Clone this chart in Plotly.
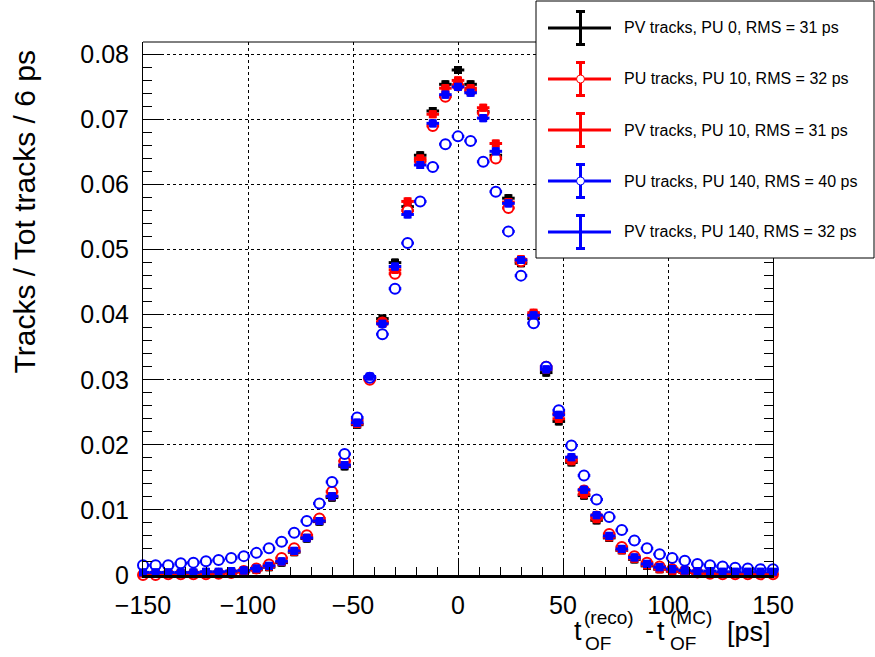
import plotly.graph_objects as go

# ---------------- data ----------------
bin_centers = [-150, -144, -138, -132, -126, -120, -114, -108, -102, -96, -90, -84, -78, -72, -66, -60,
               -54, -48, -42, -36, -30, -24, -18, -12, -6, 0, 6, 12, 18, 24, 30, 36, 42, 48, 54, 60,
               66, 72, 78, 84, 90, 96, 102, 108, 114, 120, 126, 132, 138, 144, 150]

pv_pu0 = [0.0002, 0.0002, 0.0002, 0.0002, 0.0002, 0.0003, 0.0003, 0.0004, 0.0005, 0.0008, 0.0012, 0.0019,
          0.0035, 0.0056, 0.0082, 0.0119, 0.0167, 0.0231, 0.0303, 0.0394, 0.0480, 0.0566, 0.0645, 0.0713,
          0.0754, 0.0776, 0.0754, 0.0712, 0.0645, 0.0579, 0.0479, 0.0394, 0.0311, 0.0236, 0.0173, 0.0122,
          0.0084, 0.0057, 0.0038, 0.0024, 0.0014, 0.0009, 0.0006, 0.0004, 0.0003, 0.0003, 0.0002, 0.0002,
          0.0002, 0.0002, 0.0002]

pu_pu10 = [0.0000, 0.0000, 0.0001, 0.0001, 0.0001, 0.0001, 0.0002, 0.0003, 0.0006, 0.0010, 0.0016, 0.0026,
           0.0041, 0.0061, 0.0087, 0.0128, 0.0175, 0.0238, 0.0300, 0.0388, 0.0463, 0.0560, 0.0636, 0.0690,
           0.0735, 0.0752, 0.0744, 0.0710, 0.0640, 0.0564, 0.0482, 0.0400, 0.0320, 0.0248, 0.0178, 0.0130,
           0.0090, 0.0063, 0.0043, 0.0029, 0.0019, 0.0013, 0.0009, 0.0006, 0.0004, 0.0002, 0.0001, 0.0001,
           0.0001, 0.0001, 0.0001]

pv_pu10 = [0.0002, 0.0002, 0.0002, 0.0002, 0.0003, 0.0003, 0.0003, 0.0004, 0.0006, 0.0009, 0.0013, 0.0020,
           0.0036, 0.0057, 0.0083, 0.0121, 0.0169, 0.0232, 0.0302, 0.0389, 0.0469, 0.0574, 0.0640, 0.0708,
           0.0748, 0.0760, 0.0748, 0.0718, 0.0663, 0.0573, 0.0485, 0.0403, 0.0316, 0.0240, 0.0175, 0.0124,
           0.0086, 0.0058, 0.0038, 0.0025, 0.0015, 0.0009, 0.0006, 0.0004, 0.0003, 0.0003, 0.0002, 0.0002,
           0.0002, 0.0002, 0.0002]

pu_pu140 = [0.0015, 0.0015, 0.0015, 0.0018, 0.0019, 0.0021, 0.0023, 0.0026, 0.0029, 0.0034, 0.0041, 0.0051,
            0.0065, 0.0083, 0.0110, 0.0143, 0.0186, 0.0242, 0.0303, 0.0370, 0.0440, 0.0510, 0.0574, 0.0627,
            0.0662, 0.0674, 0.0667, 0.0635, 0.0589, 0.0528, 0.0460, 0.0387, 0.0320, 0.0253, 0.0199, 0.0153,
            0.0116, 0.0089, 0.0069, 0.0053, 0.0041, 0.0032, 0.0026, 0.0022, 0.0017, 0.0015, 0.0013, 0.0011,
            0.0010, 0.0009, 0.0009]

pv_pu140 = [0.0004, 0.0004, 0.0004, 0.0004, 0.0004, 0.0005, 0.0005, 0.0006, 0.0007, 0.0010, 0.0014, 0.0021,
            0.0037, 0.0057, 0.0083, 0.0121, 0.0169, 0.0234, 0.0305, 0.0386, 0.0474, 0.0554, 0.0630, 0.0694,
            0.0738, 0.0750, 0.0741, 0.0702, 0.0651, 0.0571, 0.0484, 0.0399, 0.0316, 0.0246, 0.0181, 0.0131,
            0.0092, 0.0060, 0.0040, 0.0027, 0.0017, 0.0012, 0.0009, 0.0007, 0.0006, 0.0006, 0.0005, 0.0005,
            0.0005, 0.0005, 0.0005]

legend_labels = ["PV tracks, PU 0, RMS = 31 ps",
                 "PU tracks, PU 10, RMS = 32 ps",
                 "PV tracks, PU 10, RMS = 31 ps",
                 "PU tracks, PU 140, RMS = 40 ps",
                 "PV tracks, PU 140, RMS = 32 ps"]

bin_half_width = 3.0
stat_err = 0.0004

# ---------------- figure geometry ----------------
W, H = 875, 657
L, R, T, B = 143, 773, 42, 575   # plot area in pixels


def px(xp):
    return (xp - L) / (R - L)


def py(yp):
    return (B - yp) / (B - T)


series = [
    (pv_pu0, "#000000", False),
    (pu_pu10, "#ff0000", True),
    (pv_pu10, "#ff0000", False),
    (pu_pu140, "#0000ff", True),
    (pv_pu140, "#0000ff", False),
]

fig = go.Figure()
for (vals, col, is_open), name in zip(series, legend_labels):
    if is_open:
        mk = dict(symbol="circle", color="white", size=10, line=dict(color=col, width=2))
    else:
        mk = dict(symbol="square", color=col, size=8, line=dict(color=col, width=0))
    fig.add_trace(go.Scatter(
        x=bin_centers, y=vals, mode="markers", name=name, showlegend=False,
        marker=mk,
        error_x=dict(type="constant", value=bin_half_width, color=col, thickness=3, width=0),
        error_y=dict(type="constant", value=stat_err, color=col, thickness=3, width=3),
        cliponaxis=False,
    ))

fig.update_layout(
    width=W, height=H,
    margin=dict(l=L, r=W - R, t=T, b=H - B, pad=0),
    paper_bgcolor="white", plot_bgcolor="white",
    font=dict(family="Liberation Sans, Arial, sans-serif", color="black"),
    showlegend=False,
)

fig.update_xaxes(
    range=[-150, 150], tickmode="linear", tick0=-150, dtick=50,
    ticks="inside", ticklen=15, tickwidth=1, tickcolor="black",
    minor=dict(ticks="inside", ticklen=8, dtick=10, tickcolor="black", showgrid=False),
    showgrid=True, gridcolor="black", griddash="dot", gridwidth=1,
    showline=True, linecolor="black", linewidth=3, mirror=False,
    tickfont=dict(size=25, color="black"), ticklabelstandoff=6,
    zeroline=False, automargin=False,
)
fig.update_yaxes(
    range=[0, 0.0819], tickmode="linear", tick0=0, dtick=0.01,
    ticks="inside", ticklen=18, tickwidth=1, tickcolor="black",
    minor=dict(ticks="inside", ticklen=9, dtick=0.002, tickcolor="black", showgrid=False),
    showgrid=True, gridcolor="black", griddash="dot", gridwidth=1,
    showline=True, linecolor="black", linewidth=1, mirror="ticks",
    tickfont=dict(size=25, color="black"), ticklabelstandoff=8,
    zeroline=False, automargin=False,
)

shapes = []
annotations = []

# top frame line
shapes.append(dict(type="line", xref="paper", yref="paper", x0=0, x1=1, y0=1, y1=1,
                   line=dict(color="black", width=1)))

# ---------------- legend (drawn box) ----------------
shapes.append(dict(type="rect", xref="paper", yref="paper",
                   x0=px(536), x1=px(874), y0=py(258), y1=py(1),
                   fillcolor="white", line=dict(color="black", width=1), layer="above"))
entry_y = [28, 79, 130, 181, 232]
for (vals, col, is_open), name, ey in zip(series, legend_labels, entry_y):
    cx = 580.5
    shapes.append(dict(type="line", xref="paper", yref="paper", x0=px(548), x1=px(611), y0=py(ey), y1=py(ey),
                       line=dict(color=col, width=3), layer="above"))
    shapes.append(dict(type="line", xref="paper", yref="paper", x0=px(cx), x1=px(cx), y0=py(ey - 16.5), y1=py(ey + 16.5),
                       line=dict(color=col, width=3), layer="above"))
    for dy in (-16.5, 16.5):
        shapes.append(dict(type="line", xref="paper", yref="paper", x0=px(cx - 4.5), x1=px(cx + 4.5),
                           y0=py(ey + dy), y1=py(ey + dy), line=dict(color=col, width=3), layer="above"))
    if is_open:
        shapes.append(dict(type="circle", xref="paper", yref="paper", x0=px(cx - 4), x1=px(cx + 4),
                           y0=py(ey + 4), y1=py(ey - 4), fillcolor="white",
                           line=dict(color=col, width=1), layer="above"))
    annotations.append(dict(text=name, xref="paper", yref="paper", x=px(622), y=py(ey),
                            xanchor="left", yanchor="middle", showarrow=False,
                            font=dict(size=16, color="black")))

# ---------------- axis titles ----------------
annotations.append(dict(text="Tracks / Tot tracks / 6 ps", xref="paper", yref="paper",
                        x=px(24), y=py(49), xanchor="center", yanchor="top", textangle=-90,
                        showarrow=False, font=dict(size=30, color="black")))

big, small = 27, 19
xt = [
    ("t", 572, 631, big),
    ("(reco)", 582, 617, small),
    ("OF", 583, 643, small),
    ("-", 643, 630, big),
    ("t", 655, 631, big),
    ("(MC)", 668, 617, small),
    ("OF", 668, 643, small),
    ("[ps]", 725, 632, big),
]
for txt, xx, yy, fs in xt:
    annotations.append(dict(text=txt, xref="paper", yref="paper", x=px(xx), y=py(yy),
                            xanchor="left", yanchor="middle", showarrow=False,
                            font=dict(size=fs, color="black")))

fig.update_layout(shapes=shapes, annotations=annotations)

fig.write_html("out.html", config={"displayModeBar": False},
               post_script="document.body.style.margin='0px';document.body.style.overflow='hidden';")
